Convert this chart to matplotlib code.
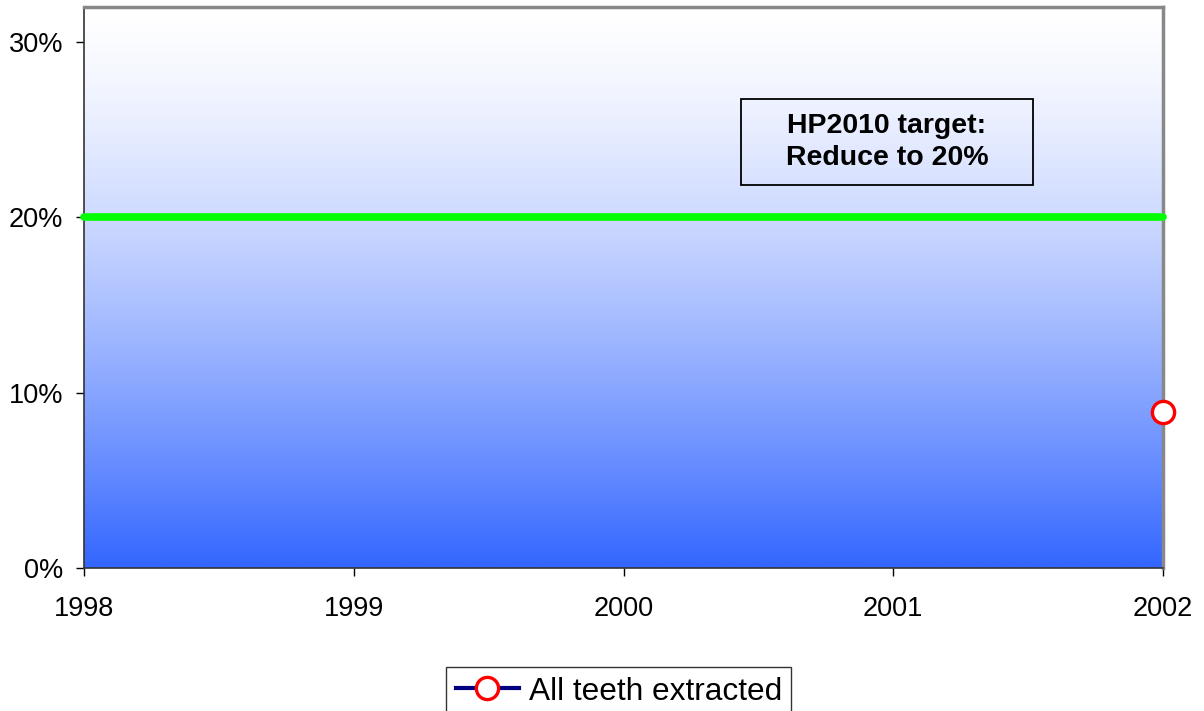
import numpy as np
import matplotlib
matplotlib.use("Agg")
import matplotlib.pyplot as plt
from matplotlib.ticker import FuncFormatter
from matplotlib.patches import Rectangle

plt.rcParams['font.family'] = ['Liberation Sans', 'DejaVu Sans']

years = [1998, 1999, 2000, 2001, 2002]
all_teeth = [np.nan, np.nan, np.nan, np.nan, 0.089]
target_value = 0.20
series_label = "All teeth extracted"
annotation = "HP2010 target:\nReduce to 20%"
y_ticks = [0.0, 0.10, 0.20, 0.30]

fig = plt.figure(figsize=(12.04, 7.11), dpi=100)
ax = fig.add_axes([84/1204, 1 - 568/711, (1163-84)/1204, (568-7)/711])

xmin, xmax = 1998, 2002
ymin, ymax = 0.0, 0.32
ax.set_xlim(xmin, xmax)
ax.set_ylim(ymin, ymax)

# gradient background
n = 512
t = np.linspace(0, 1, n)[:, None]  # 0 top, 1 bottom
f = t ** 1.42
top = np.array([255, 255, 255]) / 255
bot = np.array([51, 102, 255]) / 255
grad = (1 - f)[..., None] * top + f[..., None] * bot
grad = np.repeat(grad, 2, axis=1)
ax.imshow(grad, extent=[xmin, xmax, ymin, ymax], aspect='auto', zorder=0, origin='upper')

# target line
ax.plot([years[0], years[-1]], [target_value, target_value], color='#00ff00', lw=5.5,
        solid_capstyle='round', zorder=3, clip_on=False)

# series
ax.plot(years, all_teeth, color='#000080', lw=3, marker='o', markersize=16,
        markerfacecolor='white', markeredgecolor='red', markeredgewidth=2.4,
        label=series_label, zorder=5, clip_on=False)

# annotation box
bx0, bx1 = (741 - 84) / 1079, (1033 - 84) / 1079
by0, by1 = (568 - 185) / 561, (568 - 99) / 561
ax.add_patch(Rectangle((bx0, by0), bx1 - bx0, by1 - by0, transform=ax.transAxes,
                       facecolor='none', edgecolor='black', lw=1.3, zorder=6))
ax.text((bx0 + bx1) / 2, (by0 + by1) / 2, annotation, transform=ax.transAxes,
        ha='center', va='center', fontsize=20.5, fontweight='bold', zorder=7,
        linespacing=1.3)

ax.set_xticks(years)
ax.set_xticklabels([str(y) for y in years])
ax.set_yticks(y_ticks)
ax.yaxis.set_major_formatter(FuncFormatter(lambda v, p: f"{v*100:.0f}%"))
ax.tick_params(axis='both', labelsize=19.5, length=6, width=1, direction='out', colors='black')
ax.tick_params(axis='x', pad=14)
ax.tick_params(axis='y', pad=9)

for s in ['top', 'right']:
    ax.spines[s].set_color('#888888')
    ax.spines[s].set_linewidth(2.5)
for s in ['left', 'bottom']:
    ax.spines[s].set_color('#333333')
    ax.spines[s].set_linewidth(1.2)

leg = fig.legend(loc='upper center', bbox_to_anchor=(0.514, 1 - 667/711), fontsize=22.8,
                 frameon=True, fancybox=False, edgecolor='black', borderaxespad=0,
                 handlelength=2.0, handletextpad=0.3, borderpad=0.3)
leg.get_frame().set_linewidth(1.0)

fig.savefig("out.png", dpi=100)
